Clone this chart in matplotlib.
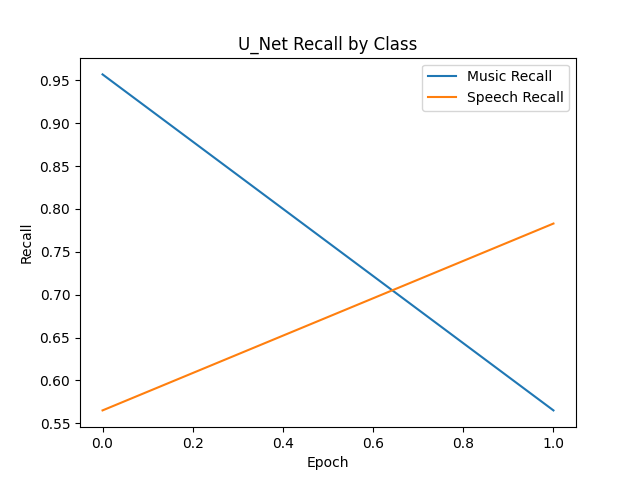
import matplotlib
matplotlib.use("Agg")
import matplotlib.pyplot as plt

epochs = [0, 1]
music_recall = [0.957, 0.565]
speech_recall = [0.565, 0.783]

fig, ax = plt.subplots(figsize=(6.4, 4.8), dpi=100)
ax.plot(epochs, music_recall, label="Music Recall")
ax.plot(epochs, speech_recall, label="Speech Recall")
ax.set_title("U_Net Recall by Class")
ax.set_xlabel("Epoch")
ax.set_ylabel("Recall")
ax.legend()
fig.savefig("out.png")
